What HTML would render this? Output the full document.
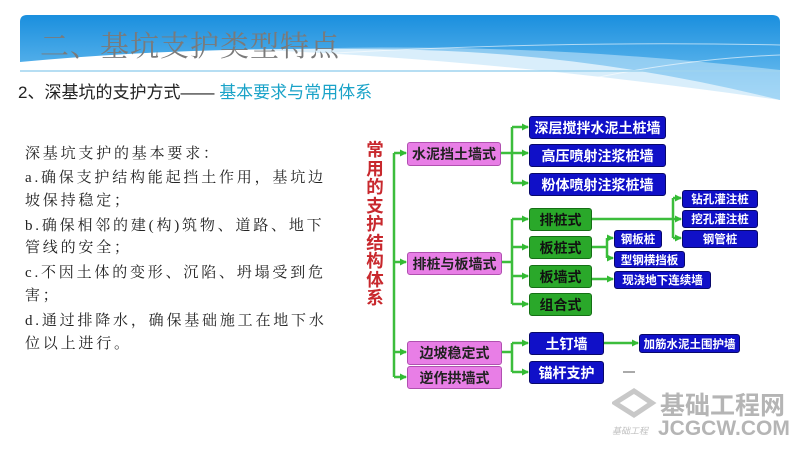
<!DOCTYPE html>
<html><head><meta charset="utf-8"><style>
body{margin:0;width:800px;height:450px;background:#fff;position:relative;overflow:hidden;font-family:"Liberation Sans","Noto Sans CJK SC",sans-serif}
.a{position:absolute;white-space:nowrap}
.b{position:absolute;display:flex;align-items:center;justify-content:center;font-weight:bold;border-radius:3px;font-size:14px;white-space:nowrap}
.p{background:#e87ee6;color:#222;border:1px solid #b050b0}
.n{background:#1010c8;color:#fff;border:1px solid #08086a}
.g{background:#2aa82a;color:#111;border:1px solid #157015}
.s{font-size:11.5px}
.t{position:absolute;left:25px;font-family:"Liberation Serif","Noto Serif CJK SC",serif;font-size:15px;color:#222;letter-spacing:2.8px;white-space:nowrap}
</style></head><body>
<svg class="a" style="left:0;top:0" width="800" height="110">
<defs><linearGradient id="bg" x1="0" y1="0" x2="0" y2="1"><stop offset="0" stop-color="#1a8fde"/><stop offset="1" stop-color="#7cc6f2"/></linearGradient></defs>
<path d="M20 22 Q20 15 27 15 L772 15 Q780 15 780 22 L780 100 Q600 55 420 50 Q200 45 20 62 Z" fill="url(#bg)"/>
<path d="M260 50 Q500 60 780 100 L780 70 Q520 40 260 50 Z" fill="#bfe3f8" opacity="0.6"/>
<path d="M300 55 Q550 40 780 45" stroke="#fff" stroke-width="1" fill="none" opacity="0.6"/>
<path d="M500 100 Q650 60 780 55" stroke="#fff" stroke-width="1" fill="none" opacity="0.6"/>
<line x1="20" y1="71" x2="780" y2="71" stroke="#9ed3ef" stroke-width="1.5"/>
</svg>
<div class="a" style="left:40px;top:24px;font-size:29px;color:#7a7a7a;font-family:'Liberation Serif','Noto Serif CJK SC',serif;letter-spacing:1px">二、基坑支护类型特点</div>
<div class="a" style="left:18px;top:78px;font-size:17px;color:#222">2、深基坑的支护方式—— <span style="color:#1aa3c8">基本要求与常用体系</span></div>
<div class="t" style="top:142px">深基坑支护的基本要求：</div>
<div class="t" style="top:166px">a.确保支护结构能起挡土作用，基坑边</div>
<div class="t" style="top:189px">坡保持稳定；</div>
<div class="t" style="top:214px">b.确保相邻的建(构)筑物、道路、地下</div>
<div class="t" style="top:236px">管线的安全；</div>
<div class="t" style="top:261px">c.不因土体的变形、沉陷、坍塌受到危</div>
<div class="t" style="top:284px">害；</div>
<div class="t" style="top:309px">d.通过排降水，确保基础施工在地下水</div>
<div class="t" style="top:332px">位以上进行。</div>
<div class="a" style="left:365px;top:141px;width:20px;font-size:17.5px;line-height:18.5px;color:#c8282d;font-weight:bold;text-align:center;white-space:normal">常用的支护结构体系</div>
<svg class="a" style="left:0;top:0" width="800" height="450">
<defs><marker id="m" markerUnits="userSpaceOnUse" markerWidth="7" markerHeight="7" refX="6" refY="3.5" orient="auto"><path d="M0 0 L7 3.5 L0 7Z" fill="#33bb33"/></marker></defs>
<g stroke="#3cbd3c" stroke-width="2.5" fill="none">
<path d="M394 153 V377"/>
<path d="M394 153 H406" marker-end="url(#m)"/><path d="M394 262 H406" marker-end="url(#m)"/><path d="M394 352 H406" marker-end="url(#m)"/><path d="M394 377 H406" marker-end="url(#m)"/>
<path d="M500 153 H528" marker-end="url(#m)"/><path d="M512 127 V183"/><path d="M512 127 H528" marker-end="url(#m)"/><path d="M512 183 H528" marker-end="url(#m)"/>
<path d="M500 262 H512"/><path d="M512 219 V304"/><path d="M512 219 H528" marker-end="url(#m)"/><path d="M512 247 H528" marker-end="url(#m)"/><path d="M512 276 H528" marker-end="url(#m)"/><path d="M512 304 H528" marker-end="url(#m)"/>
<path d="M500 352 H512"/><path d="M512 343 V372"/><path d="M512 343 H528" marker-end="url(#m)"/><path d="M512 372 H528" marker-end="url(#m)"/>
<path d="M590 219 H681" marker-end="url(#m)"/><path d="M673 198 V238"/><path d="M673 198 H681" marker-end="url(#m)"/><path d="M673 238 H681" marker-end="url(#m)"/>
<path d="M590 247 H607"/><path d="M607 238 V258"/><path d="M607 238 H613" marker-end="url(#m)"/><path d="M607 258 H613" marker-end="url(#m)"/>
<path d="M590 279 H613" marker-end="url(#m)"/>
<path d="M603 343 H638" marker-end="url(#m)"/>
</g>
<line x1="623" y1="372" x2="635" y2="372" stroke="#555" stroke-width="1"/>
</svg>
<div class="b p" style="left:407px;top:142px;width:92px;height:22px">水泥挡土墙式</div>
<div class="b p" style="left:407px;top:252px;width:93px;height:21px">排桩与板墙式</div>
<div class="b p" style="left:407px;top:341px;width:93px;height:22px">边坡稳定式</div>
<div class="b p" style="left:407px;top:366px;width:93px;height:21px">逆作拱墙式</div>
<div class="b n" style="left:529px;top:116px;width:135px;height:21px">深层搅拌水泥土桩墙</div>
<div class="b n" style="left:529px;top:144px;width:135px;height:21px">高压喷射注浆桩墙</div>
<div class="b n" style="left:529px;top:173px;width:135px;height:21px">粉体喷射注浆桩墙</div>
<div class="b g" style="left:529px;top:208px;width:61px;height:21px">排桩式</div>
<div class="b g" style="left:529px;top:236px;width:61px;height:21px">板桩式</div>
<div class="b g" style="left:529px;top:265px;width:61px;height:21px">板墙式</div>
<div class="b g" style="left:529px;top:293px;width:61px;height:21px">组合式</div>
<div class="b n s" style="left:682px;top:190px;width:74px;height:16px">钻孔灌注桩</div>
<div class="b n s" style="left:682px;top:210px;width:74px;height:16px">挖孔灌注桩</div>
<div class="b n s" style="left:682px;top:230px;width:74px;height:16px">钢管桩</div>
<div class="b n s" style="left:614px;top:230px;width:46px;height:16px">钢板桩</div>
<div class="b n s" style="left:614px;top:251px;width:69px;height:15px">型钢横挡板</div>
<div class="b n s" style="left:614px;top:271px;width:95px;height:16px">现浇地下连续墙</div>
<div class="b n" style="left:529px;top:332px;width:73px;height:21px">土钉墙</div>
<div class="b n" style="left:529px;top:361px;width:73px;height:21px">锚杆支护</div>
<div class="b n s" style="left:639px;top:334px;width:99px;height:17px">加筋水泥土围护墙</div>
<svg class="a" style="left:612px;top:388px" width="45" height="35"><path d="M3 15 L22 3 L40 15 L22 27 Z" fill="none" stroke="#c8c8c8" stroke-width="5"/></svg>
<div class="a" style="left:660px;top:386px;font-size:25px;color:#b5b5b5;font-weight:bold;letter-spacing:0px">基础工程网</div>
<div class="a" style="left:612px;top:424px;font-size:9px;color:#c0c0c0;font-style:italic">基础工程</div>
<div class="a" style="left:658px;top:417px;font-size:21px;color:#b5b5b5;font-weight:bold">JCGCW.COM</div>
</body></html>
